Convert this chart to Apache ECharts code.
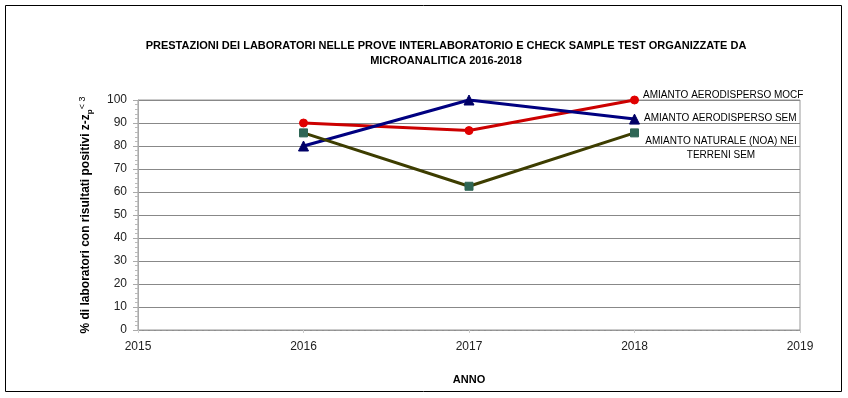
<!DOCTYPE html>
<html>
<head>
<meta charset="utf-8">
<script src="https://cdn.jsdelivr.net/npm/echarts@6/dist/echarts.min.js"></script>
<style>
	html, body { margin: 0; padding: 0; background: #fff; }
	#main { width: 848px; height: 398px; }
</style>
</head>
<body>
<div id="main"></div>
<script>
	// anni (asse x)
	var anni = [ 2016, 2017, 2018 ];
	// serie
	var nomiSerie = [ 'AMIANTO AERODISPERSO MOCF', 'AMIANTO AERODISPERSO SEM', 'AMIANTO NATURALE (NOA) NEI\nTERRENI SEM' ];
	var mocf = [ 90, 86.7, 100 ];
	var sem = [ 80, 100, 91.7 ];
	var noa = [ 85.7, 62.5, 85.7 ];
	var yTicks = [ 0, 10, 20, 30, 40, 50, 60, 70, 80, 90, 100 ];

	var font = 'Liberation Sans, Arial, sans-serif';

	// costruisce la serie con etichetta sull'ultimo punto
	function makeSerie(nome, valori, colore, simbolo, simboloColore, size, labelCfg) {
		var d = [];
		for ( var i = 0; i < anni.length; i++) {
			var item = { value : [ anni[i], valori[i] ] };
			if (i == anni.length - 1) {
				item.label = labelCfg;
			}
			d.push(item);
		}
		return {
			name : nome,
			type : 'line',
			data : d,
			symbol : simbolo,
			symbolSize : size,
			showAllSymbol : true,
			lineStyle : { color : colore, width : 3 },
			itemStyle : { color : simboloColore, borderColor : simboloColore },
			label : { show : false },
			z : 3
		};
	}

	var baseLabel = {
		show : true,
		position : 'right',
		distance : 4,
		color : '#000',
		fontSize : 10,
		fontFamily : font,
		formatter : '{a}'
	};

	var myChart = echarts.init(document.getElementById('main'), null, { renderer : 'canvas' });
	var option = {
		backgroundColor : '#fff',
		animation : false,
		title : {
			text : 'PRESTAZIONI DEI LABORATORI NELLE PROVE INTERLABORATORIO E CHECK SAMPLE TEST ORGANIZZATE DA\nMICROANALITICA 2016-2018',
			left : 441,
			top : 33,
			textAlign : 'center',
			textStyle : { fontSize : 11, fontWeight : 'bold', fontFamily : font, color : '#000', lineHeight : 15 }
		},
		graphic : [ {
			type : 'rect',
			shape : { x : 5.5, y : 5.5, width : 836, height : 386 },
			style : { fill : null, stroke : '#000', lineWidth : 1 },
			silent : true
		} ],
		grid : {
			left : 138,
			right : 48,
			top : 100,
			bottom : 68,
			show : true,
			borderColor : '#999',
			borderWidth : 1
		},
		xAxis : {
			type : 'value',
			min : 2015,
			max : 2019,
			interval : 1,
			name : 'ANNO',
			nameLocation : 'middle',
			nameGap : 44,
			nameTextStyle : { fontSize : 11, fontWeight : 'bold', fontFamily : font, color : '#000' },
			axisLine : { show : true, lineStyle : { color : '#999', type : 'dashed' } },
			axisTick : { show : true, length : 3, lineStyle : { color : '#ccc' } },
			axisLabel : { fontSize : 12, fontFamily : font, color : '#222', margin : 11,
				formatter : function(v) { return String(v); } },
			splitLine : { show : false }
		},
		yAxis : {
			type : 'value',
			min : 0,
			max : 100,
			interval : 10,
			name : '{a|% di laboratori con risultati positivi z-z}{s|p}{u|< 3}',
			nameLocation : 'middle',
			nameGap : 44,
			nameRotate : 90,
			nameTextStyle : {
				lineHeight : 16,
				rich : {
					a : { fontSize : 12, fontWeight : 'bold', fontFamily : font, color : '#000', lineHeight : 16 },
					s : { fontSize : 8, fontWeight : 'bold', fontFamily : font, color : '#000', lineHeight : 16, verticalAlign : 'bottom' },
					u : { fontSize : 9, fontFamily : font, color : '#000', lineHeight : 16, verticalAlign : 'top' }
				}
			},
			axisLine : { show : true, lineStyle : { color : '#aaa' } },
			axisTick : { show : true, length : 5, lineStyle : { color : '#aaa' } },
			minorTick : { show : true, splitNumber : 5, length : 3, lineStyle : { color : '#bbb' } },
			axisLabel : { fontSize : 12, fontFamily : font, color : '#222', margin : 11,
				formatter : function(v) { return yTicks.indexOf(v) >= 0 ? String(v) : ''; } },
			splitLine : { show : true, lineStyle : { color : '#888', width : 1 } }
		},
		series : [
			makeSerie(nomiSerie[0], mocf, '#cc0000', 'circle', '#e00000', 8,
				Object.assign({}, baseLabel, { offset : [ 0, -5 ] })),
			makeSerie(nomiSerie[1], sem, '#000080', 'triangle', '#000066', 10,
				Object.assign({}, baseLabel, { offset : [ 0, -1 ] })),
			makeSerie(nomiSerie[2], noa, '#3d3d00', 'rect', '#2f6655', 8,
				Object.assign({}, baseLabel, { align : 'center', offset : [ 78, 15 ], lineHeight : 14 }))
		]
	};
	myChart.setOption(option, true);
</script>
</body>
</html>
